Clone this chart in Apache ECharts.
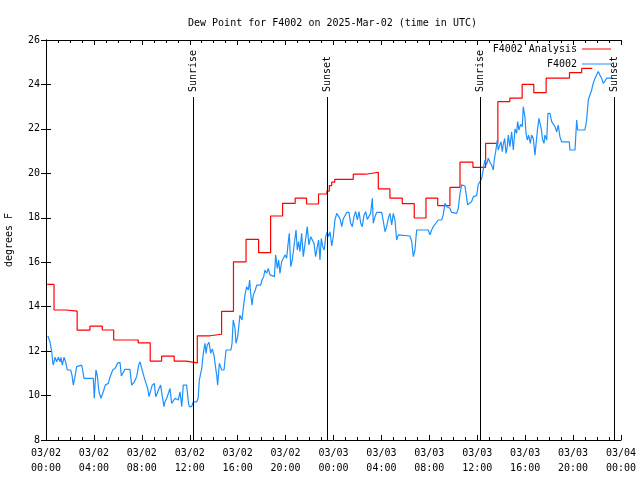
<!DOCTYPE html>
<html><head><meta charset="utf-8">
<script src="https://cdn.jsdelivr.net/npm/echarts@6/dist/echarts.min.js"></script>
<style>html,body{margin:0;padding:0;background:#fff}#c{width:640px;height:480px}</style>
</head><body><div id="c"></div>
<script>
const titleText = 'Dew Point for F4002 on 2025-Mar-02 (time in UTC)';
const xTickLabels = ['03/02\n00:00','03/02\n04:00','03/02\n08:00','03/02\n12:00','03/02\n16:00','03/02\n20:00','03/03\n00:00','03/03\n04:00','03/03\n08:00','03/03\n12:00','03/03\n16:00','03/03\n20:00','03/04\n00:00'];
const seriesNames = ['F4002 Analysis','F4002'];
// hours since 03/02 00:00 UTC
const redHours = [0.1,0.67,1.67,2.6,3.67,4.7,5.65,7.7,8.7,9.65,10.7,11.7,12.63,13.7,14.66,15.65,16.7,17.75,18.75,19.75,20.8,21.75,22.75,23.45,23.65,23.85,24.1,25.65,26.69,27.74,28.71,29.74,30.74,31.72,32.7,33.72,34.56,35.64,36.7,37.72,38.72,39.75,40.72,41.75,43.7,44.72,45.6];
const redValues = [15.0,13.85,13.8,12.94,13.12,12.95,12.5,12.37,11.55,11.77,11.55,11.47,12.69,12.76,13.79,16.02,17.03,16.43,18.08,18.65,18.88,18.62,19.07,19.2,19.45,19.6,19.73,19.96,20.05,19.3,18.88,18.64,17.99,18.88,18.55,19.37,20.5,20.27,21.35,23.23,23.38,24.0,23.63,24.28,24.53,24.72,24.72];
const blueHours = [0.15,0.33,0.48,0.56,0.61,0.75,0.89,1.03,1.17,1.25,1.36,1.50,1.64,1.78,2.06,2.17,2.28,2.40,2.56,2.70,2.98,3.06,3.17,3.95,4.03,4.17,4.28,4.42,4.59,4.78,4.95,5.20,5.34,5.57,5.76,5.90,6.01,6.18,6.29,6.45,6.59,7.01,7.15,7.37,7.57,7.74,7.85,7.99,8.18,8.35,8.49,8.60,8.68,8.87,9.04,9.16,9.29,9.43,9.57,9.71,9.85,9.93,10.08,10.21,10.35,10.49,10.63,10.77,10.91,11.04,11.19,11.33,11.46,11.74,11.88,11.96,12.16,12.30,12.58,12.70,12.80,13.00,13.13,13.27,13.36,13.46,13.61,13.75,13.88,14.02,14.17,14.25,14.33,14.47,14.67,14.86,15.03,15.44,15.53,15.63,15.78,15.86,16.00,16.09,16.19,16.36,16.47,16.61,16.75,16.89,17.00,17.08,17.20,17.30,17.47,17.59,17.92,18.03,18.17,18.28,18.42,18.56,18.70,18.84,19.07,19.17,19.31,19.42,19.53,19.67,19.81,19.95,20.09,20.20,20.31,20.43,20.56,20.70,20.87,20.98,21.09,21.20,21.34,21.48,21.62,21.81,21.95,22.10,22.26,22.37,22.51,22.65,22.76,22.87,22.98,23.10,23.23,23.35,23.48,23.60,23.71,23.85,23.98,24.12,24.27,24.40,24.54,24.69,24.82,24.96,25.10,25.29,25.43,25.57,25.71,25.85,25.99,26.13,26.27,26.40,26.54,26.69,26.82,26.96,27.10,27.24,27.32,27.46,27.60,28.02,28.16,28.30,28.44,28.57,28.71,28.86,28.99,29.13,29.27,29.41,29.55,30.38,30.53,30.66,30.80,30.94,31.91,32.05,32.19,32.33,32.47,32.75,32.89,33.03,33.16,33.31,33.45,33.58,33.72,33.86,34.28,34.42,34.56,34.70,34.83,34.97,35.06,35.20,35.33,35.53,35.67,35.95,36.09,36.23,36.37,36.50,36.64,36.78,36.92,37.06,37.20,37.34,37.42,37.56,37.67,37.75,37.84,37.98,38.09,38.17,38.29,38.40,38.51,38.59,38.73,38.87,39.01,39.15,39.29,39.37,39.48,39.62,39.76,39.84,39.98,40.07,40.18,40.29,40.43,40.54,40.68,40.82,40.90,41.01,41.15,41.24,41.34,41.46,41.57,41.65,41.80,41.90,42.07,42.21,42.35,42.49,42.63,42.76,42.90,43.04,43.68,43.74,44.16,44.30,44.38,44.99,45.13,45.27,45.41,45.55,45.68,45.83,45.97,46.10,46.24,46.38,46.52,46.66,46.80,47.22];
const blueValues = [12.68,12.42,11.97,11.52,11.37,11.72,11.52,11.72,11.52,11.72,11.37,11.72,11.52,11.15,11.15,10.92,10.47,10.80,11.30,11.37,11.37,11.15,10.77,10.77,9.88,11.15,10.90,10.17,9.88,10.17,10.47,10.55,10.82,11.15,11.22,11.37,11.48,11.48,10.88,10.88,11.18,11.18,10.47,10.62,10.85,11.37,11.52,11.22,10.85,10.55,10.32,9.95,10.10,10.47,10.55,9.95,10.10,10.32,10.47,9.95,9.50,9.72,9.88,9.95,10.32,9.65,9.65,9.88,9.95,9.80,10.17,9.50,10.47,10.47,9.72,9.50,9.50,9.72,9.72,9.88,10.70,11.22,11.90,12.35,11.90,12.27,12.40,11.90,12.10,11.82,11.22,10.92,10.47,11.45,11.15,11.15,12.05,12.05,12.35,13.40,13.02,12.35,12.65,13.10,13.62,13.40,13.93,14.52,14.90,14.75,15.20,14.60,14.07,14.52,14.75,14.97,14.97,15.20,15.35,15.65,15.50,15.72,15.43,15.35,15.35,16.33,15.72,16.10,15.50,16.02,16.10,16.33,16.18,16.78,17.30,15.80,16.10,16.02,17.45,16.55,16.93,16.48,17.30,16.25,16.25,17.60,16.78,17.15,17.15,16.85,16.25,16.70,17.00,16.10,17.07,16.70,16.55,17.15,17.37,17.15,17.37,16.73,17.15,17.90,18.20,18.28,17.96,17.60,17.96,18.05,18.24,18.24,17.75,17.60,18.05,18.28,17.90,18.28,17.75,17.60,18.10,18.28,17.93,17.93,18.20,18.88,17.75,18.05,18.24,18.24,17.84,17.37,17.60,17.96,18.20,17.68,18.20,17.90,17.00,17.23,17.18,17.18,16.93,16.25,16.55,17.45,17.45,17.23,17.45,17.60,17.68,17.90,17.96,17.90,18.13,18.65,18.50,18.58,18.43,18.24,18.20,18.43,19.10,19.48,19.40,19.43,19.10,18.58,18.50,18.73,18.95,19.00,19.50,19.45,19.77,19.75,20.60,20.40,20.68,20.50,20.37,20.15,20.60,21.05,21.50,21.05,21.20,21.42,20.97,21.30,21.57,20.90,21.20,21.72,21.20,21.87,21.05,22.00,21.80,22.33,21.95,22.20,22.10,23.00,22.55,21.80,21.50,21.72,21.35,21.72,21.57,20.82,21.27,21.87,22.47,22.55,22.00,21.50,21.35,21.72,21.50,22.70,22.70,22.33,22.40,22.10,21.87,22.17,21.65,21.42,21.42,21.05,21.05,22.40,21.95,21.95,22.40,23.30,23.30,23.75,24.05,24.28,24.35,24.58,24.42,24.28,24.05,24.15,24.28,24.28];
const sunHours = [12.3, 23.48, 36.25, 47.44];
const sunLabels = ['Sunrise','Sunset','Sunrise','Sunset'];

const FONT = '"DejaVu Sans Mono", monospace';
const chart = echarts.init(document.getElementById('c'), null, {renderer:'canvas'});
const axisCommon = {
  axisLine:{show:true, lineStyle:{color:'#000', width:1}},
  axisTick:{show:true, inside:true, length:5, lineStyle:{color:'#000'}},
  splitLine:{show:false}
};
chart.setOption({
  animation:false,
  backgroundColor:'#fff',
  title:{text:titleText, left:183, top:13, textStyle:{fontFamily:FONT, fontSize:10, fontWeight:'normal', color:'#000'}},
  legend:[
    {data:[seriesNames[0]], right:24, top:39, align:'right', icon:'rect', itemWidth:29, itemHeight:1, itemGap:0,
     textStyle:{fontFamily:FONT, fontSize:10, color:'#000'}},
    {data:[seriesNames[1]], right:24, top:54, align:'right', icon:'rect', itemWidth:29, itemHeight:1, itemGap:0,
     textStyle:{fontFamily:FONT, fontSize:10, color:'#000'}}
  ],
  grid:{left:46, right:19, top:40, bottom:40, show:false, containLabel:false, outerBoundsMode:'none'},
  xAxis:[
    Object.assign({type:'value', min:0, max:48, interval:4, position:'bottom',
      minorTick:{show:true, splitNumber:4, length:3, lineStyle:{color:'#000'}},
      axisLabel:{fontFamily:FONT, fontSize:10, color:'#000', lineHeight:15, margin:6,
        formatter:v=>xTickLabels[Math.round(v/4)]}}, axisCommon),
    Object.assign({type:'value', min:0, max:48, interval:4, position:'top',
      minorTick:{show:true, splitNumber:4, length:3, lineStyle:{color:'#000'}},
      axisLabel:{show:false}}, axisCommon)
  ],
  yAxis:[
    Object.assign({type:'value', min:8, max:26, interval:2, position:'left',
      name:'degrees F', nameLocation:'middle', nameGap:32,
      nameTextStyle:{fontFamily:FONT, fontSize:10, color:'#000'},
      axisLabel:{fontFamily:FONT, fontSize:10, color:'#000', margin:6}}, axisCommon),
    Object.assign({type:'value', min:8, max:26, interval:2, position:'right',
      axisLabel:{show:false}}, axisCommon)
  ],
  series:[
    {name:seriesNames[0], type:'line', step:'end', showSymbol:false, symbol:'none',
     data:redHours.map((h,i)=>[h, redValues[i]]),
     itemStyle:{color:'#ff0000'}, lineStyle:{color:'#ff0000', width:1.2}, z:3},
    {name:seriesNames[1], type:'line', showSymbol:false, symbol:'none',
     data:blueHours.map((h,i)=>[h, blueValues[i]]),
     itemStyle:{color:'#1e90ff'}, lineStyle:{color:'#1e90ff', width:1.2}, z:4},
    {name:'sun', type:'custom', silent:true, clip:false, z:5,
     data:sunHours.map((h,i)=>[h, 8, i]),
     encode:{x:0, y:1},
     renderItem:function(params, api){
       const cs = params.coordSys;
       const x = Math.round(api.coord([api.value(0), 8])[0]) + 0.5;
       const lbl = sunLabels[api.value(2)];
       return {type:'group', children:[
         {type:'line', shape:{x1:x, y1:cs.y+57, x2:x, y2:cs.y+cs.height}, style:{stroke:'#000', lineWidth:1}},
         {type:'text', x:x, y:cs.y+52, rotation:Math.PI/2,
          style:{text:lbl, fill:'#000', font:'10px '+FONT, align:'left', verticalAlign:'middle'}}
       ]};
     }}
  ]
});
</script></body></html>
